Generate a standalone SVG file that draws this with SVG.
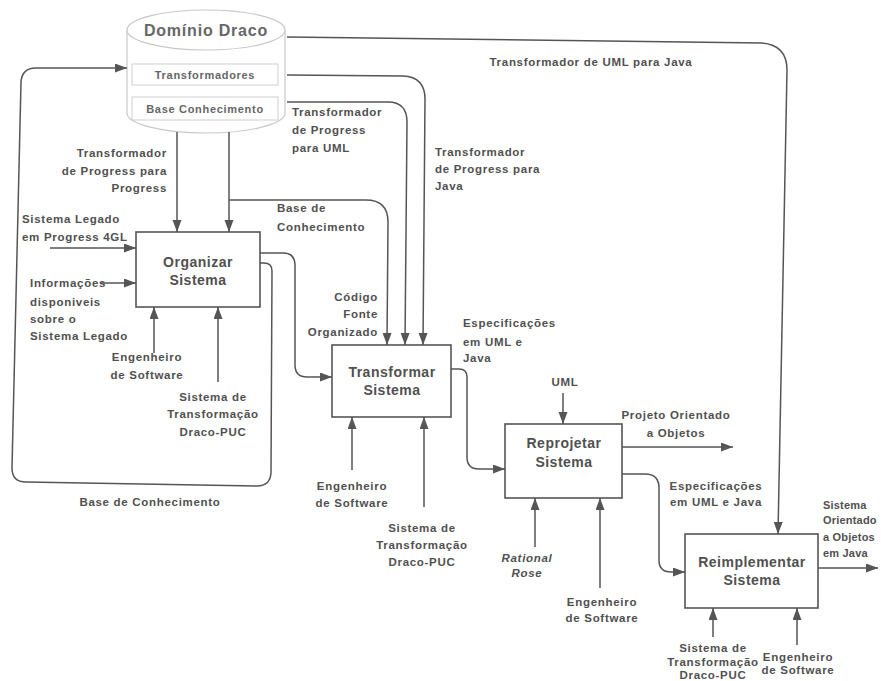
<svg xmlns="http://www.w3.org/2000/svg" width="881" height="681" viewBox="0 0 881 681">
<defs>
<marker id="arr" markerUnits="userSpaceOnUse" markerWidth="13" markerHeight="10" refX="12" refY="4.5" orient="auto">
<path d="M0,0 L12,4.5 L0,9 z" fill="#555"/>
</marker>
<style>
.bg{fill:#fff}
.box{fill:#fff;stroke:#555;stroke-width:1.6}
.cyl{fill:#fff;stroke:#c8c8c8;stroke-width:1.2}
.inner{fill:none;stroke:#cfcfcf;stroke-width:1}
.c{fill:none;stroke:#555;stroke-width:1.5}
.a{marker-end:url(#arr)}
text{font-family:"Liberation Sans",Arial,sans-serif;font-weight:bold;fill:#505050}
.lb{font-size:11.5px;letter-spacing:0.7px}
.nt{font-size:14px;letter-spacing:0.5px;text-anchor:middle}
.cy{fill:#666}
.m{text-anchor:middle}
.e{text-anchor:end}
.it{font-style:italic}
.rt{font-size:11px;letter-spacing:0.2px}
</style>
</defs>
<rect class="bg" x="0" y="0" width="881" height="681"/>

<g id="dominio-draco">
<path class="cyl" d="M127,30 V113 A79,20 0 0 0 285,113 V30"/>
<ellipse class="cyl" cx="206" cy="30" rx="79" ry="20"/>
<rect class="inner" x="132" y="64" width="146" height="21"/>
<rect class="inner" x="132" y="97" width="146" height="23"/>
<text class="cy m" x="206" y="36" style="font-size:16px;letter-spacing:0.8px">Domínio Draco</text>
<text class="cy m lb" x="205" y="78.5" style="font-size:11px">Transformadores</text>
<text class="cy m lb" x="205" y="112.5" style="font-size:11px">Base Conhecimento</text>
</g>

<g id="connectors">
<path class="c a" d="M287,37 L762,43 Q787,45 787,70 L778,534"/>
<path class="c a" d="M287,75 L403,76 Q425,77 425,99 L423,345"/>
<path class="c a" d="M287,102 L388,102 Q407,102 407,122 L405,345"/>
<path class="c a" d="M229,200 L366,200 Q388,200 388,222 L387,345"/>
<path class="c a" d="M177,132 L177,232"/>
<path class="c a" d="M229,132 L229,232"/>
<path class="c a" d="M50,248 L136,248"/>
<path class="c a" d="M100,283 L136,283"/>
<path class="c a" d="M154,353 L154,307"/>
<path class="c a" d="M218,382 L218,307"/>
<path class="c a" d="M260,253 L283,253 Q295,253 295,265 L295,365 Q295,377 307,377 L332,377"/>
<path class="c a" d="M260,263 L264,263 Q272,263 272,271 L271,473 Q270,486 257,486 L26,482 Q12,482 12,468 L21,82 Q22,68 36,68 L127,68"/>
<path class="c a" d="M451,369 L459,369 Q467,369 467,377 L467,457 Q467,469 479,469 L505,469"/>
<path class="c a" d="M352,470 L352,417"/>
<path class="c a" d="M424,507 L424,417"/>
<path class="c a" d="M563,393 L563,424"/>
<path class="c a" d="M535,547 L535,498"/>
<path class="c a" d="M600,588 L600,498"/>
<path class="c a" d="M622,447 L733,447"/>
<path class="c a" d="M622,474 L645,474 Q659,474 659,488 L659,560 Q659,572 671,572 L685,572"/>
<path class="c a" d="M818,568 L878,568"/>
<path class="c a" d="M713,637 L713,608"/>
<path class="c a" d="M797,645 L797,608"/>
</g>

<g id="organizar-sistema">
<rect class="box" x="136" y="232" width="124" height="75"/>
<text class="nt" x="198" y="267">Organizar</text>
<text class="nt" x="198" y="285">Sistema</text>
</g>

<g id="transformar-sistema">
<rect class="box" x="332" y="345" width="119" height="72"/>
<text class="nt" x="392" y="377">Transformar</text>
<text class="nt" x="392" y="395">Sistema</text>
</g>

<g id="reprojetar-sistema">
<rect class="box" x="505" y="424" width="117" height="74"/>
<text class="nt" x="564" y="448">Reprojetar</text>
<text class="nt" x="564" y="467">Sistema</text>
</g>

<g id="reimplementar-sistema">
<rect class="box" x="685" y="534" width="133" height="74"/>
<text class="nt" x="752" y="567">Reimplementar</text>
<text class="nt" x="752" y="585">Sistema</text>
</g>

<g id="labels">
<text class="lb m" x="591" y="66">Transformador de UML para Java</text>
<text class="lb" x="292" y="116">Transformador</text>
<text class="lb" x="292" y="134">de Progress</text>
<text class="lb" x="292" y="152">para UML</text>
<text class="lb" x="435" y="156">Transformador</text>
<text class="lb" x="435" y="173">de Progress para</text>
<text class="lb" x="435" y="190">Java</text>
<text class="lb e" x="167" y="157">Transformador</text>
<text class="lb e" x="167" y="175">de Progress para</text>
<text class="lb e" x="167" y="192">Progress</text>
<text class="lb" x="277" y="212">Base de</text>
<text class="lb" x="277" y="231">Conhecimento</text>
<text class="lb" x="22" y="223">Sistema Legado</text>
<text class="lb" x="22" y="241">em Progress 4GL</text>
<text class="lb" x="30" y="287">Informações</text>
<text class="lb" x="30" y="306">disponiveis</text>
<text class="lb" x="30" y="323">sobre o</text>
<text class="lb" x="30" y="340">Sistema Legado</text>
<text class="lb m" x="147" y="361">Engenheiro</text>
<text class="lb m" x="147" y="379">de Software</text>
<text class="lb m" x="213" y="401">Sistema de</text>
<text class="lb m" x="213" y="418">Transformação</text>
<text class="lb m" x="213" y="436">Draco-PUC</text>
<text class="lb e" x="378" y="301">Código</text>
<text class="lb e" x="378" y="318">Fonte</text>
<text class="lb e" x="378" y="336">Organizado</text>
<text class="lb" x="463" y="327">Especificações</text>
<text class="lb" x="463" y="346">em UML e</text>
<text class="lb" x="463" y="362">Java</text>
<text class="lb m" x="565" y="386">UML</text>
<text class="lb m" x="676" y="419">Projeto Orientado</text>
<text class="lb m" x="676" y="437">a Objetos</text>
<text class="lb m" x="716" y="490">Especificações</text>
<text class="lb m" x="716" y="506">em UML e Java</text>
<text class="rt" x="823" y="509">Sistema</text>
<text class="rt" x="823" y="524">Orientado</text>
<text class="rt" x="823" y="541">a Objetos</text>
<text class="rt" x="823" y="557">em Java</text>
<text class="lb m" x="352" y="490">Engenheiro</text>
<text class="lb m" x="352" y="507">de Software</text>
<text class="lb m" x="422" y="532">Sistema de</text>
<text class="lb m" x="422" y="549">Transformação</text>
<text class="lb m" x="422" y="566">Draco-PUC</text>
<text class="lb m it" x="527" y="562">Rational</text>
<text class="lb m it" x="527" y="577">Rose</text>
<text class="lb m" x="602" y="606">Engenheiro</text>
<text class="lb m" x="602" y="622">de Software</text>
<text class="lb m" x="713" y="652">Sistema de</text>
<text class="lb m" x="713" y="666">Transformação</text>
<text class="lb m" x="713" y="679">Draco-PUC</text>
<text class="lb m" x="798" y="661">Engenheiro</text>
<text class="lb m" x="798" y="674">de Software</text>
<text class="lb m" x="150" y="506">Base de Conhecimento</text>
</g>
</svg>
